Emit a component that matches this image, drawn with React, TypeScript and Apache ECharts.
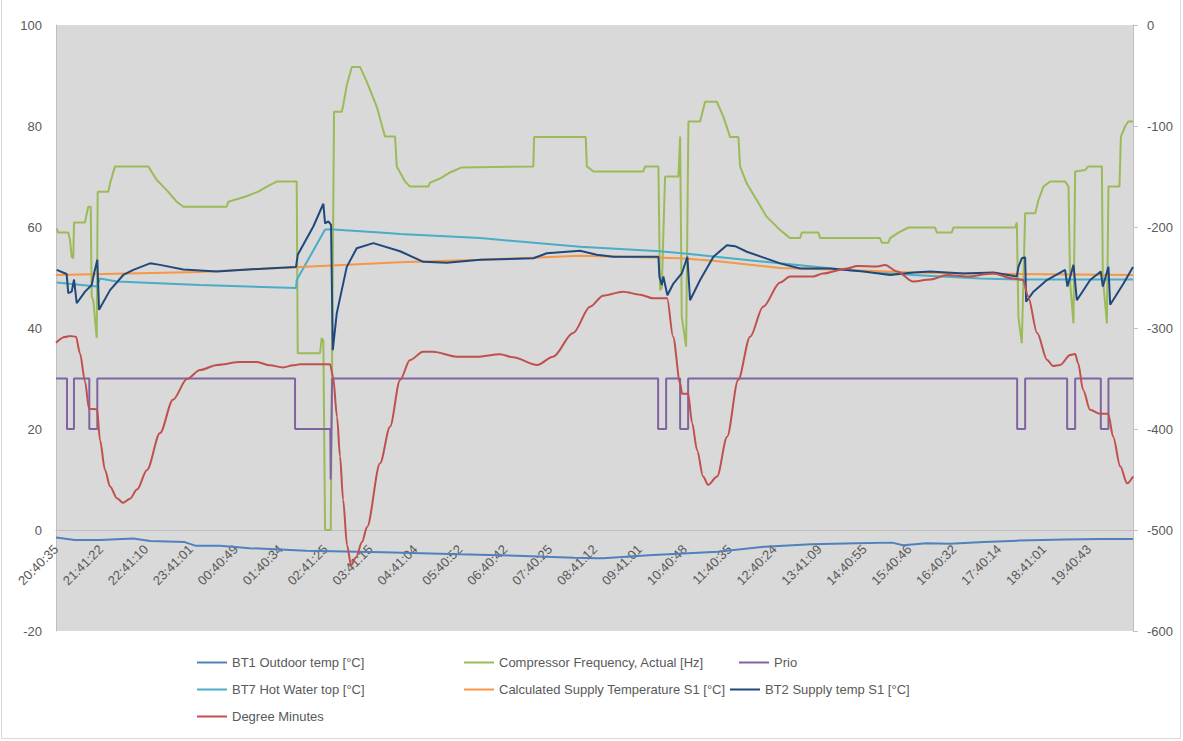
import React, { useEffect, useRef } from "react";
import * as echarts from "echarts";

// x values are minutes since 20:40:35 (one axis label every 60 minutes)
const timeLabels = [
  "20:40:35", "21:41:22", "22:41:10", "23:41:01", "00:40:49", "01:40:34",
  "02:41:25", "03:41:15", "04:41:04", "05:40:52", "06:40:42", "07:40:25",
  "08:41:12", "09:41:01", "10:40:48", "11:40:35", "12:40:24", "13:41:09",
  "14:40:55", "15:40:46", "16:40:32", "17:40:14", "18:41:01", "19:40:43",
];

const bt1Outdoor = [
  [0, -1.5], [25, -2.0], [59, -2.0], [103, -1.7], [126, -2.2], [172, -2.4], [186, -3.1],
  [219, -3.1], [259, -3.6], [334, -4.1], [437, -4.4], [539, -4.8], [616, -5.1], [692, -5.5],
  [723, -5.6], [731, -5.6], [792, -5.0], [884, -4.3], [947, -3.3], [1009, -2.8], [1070, -2.6],
  [1117, -2.5], [1132, -3.0], [1163, -2.6], [1194, -2.7], [1240, -2.4], [1286, -2.1],
  [1348, -1.9], [1395, -1.8], [1439, -1.8],
];

const compressorFreq = [
  [0.9, 59.7], [2.7, 58.9], [16.4, 58.9], [18.7, 57.4], [21, 54.1], [23.1, 53.8], [24.1, 60.9],
  [38.8, 60.9], [40.1, 62.0], [43.2, 64.0], [46.4, 64.0], [47.7, 46.2], [49.8, 45.5], [54.4, 38.0],
  [55.7, 67.0], [69.9, 67.0], [72.2, 68.6], [78.8, 72.0], [123.3, 72.0], [134.6, 69.3],
  [147.9, 67.3], [161.3, 65.0], [170.1, 64.0], [228.1, 64.0], [230.2, 65.0], [252.6, 66.0],
  [270.3, 67.0], [281.6, 68.0], [294.9, 69.0], [321.6, 69.0], [323, 35.0], [352.8, 35.0],
  [355, 38.0], [357.2, 37.5], [359.5, 0], [367.1, 0], [371.5, 82.8], [381.8, 82.8], [383.9, 84.2],
  [388.5, 88.1], [395.2, 91.7], [406.2, 91.7], [415.2, 88.8], [428.6, 83.8], [439.6, 77.9],
  [453, 77.9], [455.3, 72.0], [466.4, 69.0], [473, 68.0], [497.5, 68.0], [499.8, 68.8],
  [513.1, 69.6], [526.5, 70.8], [542.1, 71.8], [637.8, 72.0], [638.8, 77.8], [707.8, 77.8],
  [709.2, 72.0], [718, 71.0], [784.8, 71.0], [787.1, 72.0], [804.9, 72.0], [807.1, 47.5],
  [809.4, 48.0], [813.8, 70.0], [831.6, 70.0], [833.9, 77.9], [836.1, 42.2], [841.9, 36.3],
  [845, 80.9], [860.6, 80.9], [867.3, 84.8], [882.9, 84.8], [891.8, 81.8], [900.7, 77.8],
  [911.8, 77.8], [914, 72.0], [923, 68.6], [936.4, 65.3], [949.7, 62.0], [967.5, 59.4],
  [980.8, 57.8], [994.2, 57.8], [996.5, 58.9], [1018.7, 58.9], [1021, 57.8], [1101.1, 57.8],
  [1103.3, 56.9], [1112.1, 56.9], [1114.5, 57.8], [1125.6, 58.9], [1138.9, 59.9], [1174.6, 59.9],
  [1176.9, 58.9], [1196.9, 58.9], [1199.1, 59.9], [1281.5, 59.9], [1283.8, 60.9], [1285.9, 42.2],
  [1290.4, 37.0], [1294.9, 62.7], [1308.3, 62.7], [1312.6, 65.3], [1319.3, 68.0], [1328.3, 69.0],
  [1348.3, 69.0], [1352.8, 68.0], [1355.1, 48.8], [1359.5, 40.9], [1361.7, 71.0], [1375.1, 71.3],
  [1379.5, 72.0], [1397.4, 72.0], [1398.7, 50.0], [1404.1, 40.9], [1406.2, 68.0], [1420.9, 68.0],
  [1422.8, 77.9], [1428.6, 80.0], [1433, 80.9], [1439, 80.9],
];

const prio = [
  [0, 30], [14.7, 30], [14.7, 20], [24, 20], [24, 30], [44.5, 30], [44.5, 20], [55.2, 20],
  [55.2, 30], [319.4, 30], [319.4, 20], [366.5, 20], [367, 10], [369, 30], [804.5, 30],
  [804.5, 20], [815.2, 20], [815.2, 30], [833.9, 30], [833.9, 20], [844.6, 20], [844.6, 30],
  [1284.2, 30], [1284.2, 20], [1294.9, 20], [1294.9, 30], [1351, 30], [1351, 20], [1361.7, 20],
  [1361.7, 30], [1396, 30], [1396, 20], [1406.2, 20], [1406.2, 30], [1439, 30],
];

const bt7HotWater = [
  [0.9, 49.0], [54.4, 48.2], [58.8, 49.8], [81.1, 49.2], [192.4, 48.5], [320.7, 47.9],
  [321.6, 49.5], [359.5, 59.5], [370.2, 59.5], [433, 58.9], [459.7, 58.6], [566.6, 57.8],
  [700.2, 56.1], [807.1, 55.2], [843.2, 54.7], [967.5, 52.8], [1057, 51.5], [1145.2, 50.5],
  [1234.7, 49.8], [1288.2, 49.6], [1439, 49.6],
];

const calcSupply = [
  [0, 50.5], [192.4, 51.1], [326, 52.1], [459.7, 53.0], [566.6, 53.5], [700.2, 54.3],
  [833.9, 53.8], [878, 53.3], [967.5, 51.9], [1057, 51.5], [1145.2, 51.0], [1278.8, 50.7],
  [1439, 50.5],
];

const bt2Supply = [
  [0.9, 51.5], [14.2, 50.7], [16.4, 46.9], [21, 47.2], [24.1, 49.6], [27.7, 44.9], [38.8, 47.2],
  [47.7, 48.5], [50.8, 50.8], [55.2, 53.5], [57.5, 43.6], [72.2, 47.5], [89.9, 50.5],
  [103.3, 51.5], [125.6, 52.8], [139, 52.5], [170.1, 51.6], [214.7, 51.2], [281.6, 51.8],
  [320.7, 52.1], [323, 54.5], [343.8, 60.1], [357.2, 64.6], [359.5, 60.7], [363.9, 61.1],
  [367.5, 60.4], [369.8, 35.6], [375.1, 42.9], [388.5, 52.1], [401.8, 55.8], [424, 56.8],
  [459.7, 55.2], [490.8, 53.1], [522.1, 52.9], [566.6, 53.5], [637.8, 53.8], [655.7, 54.8],
  [700.2, 55.3], [722.5, 54.5], [744.7, 54.1], [804.9, 54.1], [806.2, 50.2], [809.4, 48.5],
  [811.5, 50.2], [816.9, 46.5], [824.9, 48.8], [836.1, 50.8], [843.6, 54.1], [847.2, 45.5],
  [860.6, 49.5], [878.4, 54.1], [896.3, 56.4], [907.4, 56.2], [923, 55.1], [967.5, 52.8],
  [994.2, 51.8], [1034.3, 51.8], [1078.8, 51.2], [1114.5, 50.5], [1145.6, 51.0], [1168, 51.2],
  [1212.4, 50.8], [1252.5, 51.0], [1283.8, 50.2], [1285.9, 52.1], [1290.4, 53.8], [1294.9, 54.0],
  [1296.2, 45.2], [1306, 47.2], [1323.9, 49.5], [1348.3, 51.5], [1351.4, 48.2], [1359.5, 52.5],
  [1364, 45.5], [1381.7, 49.5], [1396, 51.2], [1398.7, 48.2], [1406.2, 52.1], [1408.5, 44.6],
  [1426.3, 48.8], [1439, 52.1],
];

const degreeMinutes = [
  [0, -314.5], [12, -309], [18.7, -308], [26.7, -308.6], [32, -325], [38.8, -353], [44.1, -380],
  [54.8, -380.5], [58.8, -411], [65.5, -440.6], [72.2, -457], [81.5, -468.6], [89.5, -473],
  [98.9, -469], [108.2, -460], [121.6, -440.6], [139, -404], [156.3, -371], [175, -350.5],
  [192.4, -341.6], [215.1, -336.6], [245.9, -333.7], [268.6, -333.7], [286, -337], [303.3, -339],
  [316.7, -337], [326, -336], [366.1, -336], [370.2, -348], [375.5, -388], [379.5, -427],
  [383.6, -470], [388.9, -515], [394.2, -535], [400.9, -527], [408.9, -512], [415.6, -497],
  [433, -434], [446.3, -397.7], [459.7, -351.5], [473, -331.7], [490.4, -323.5], [503.8, -323.5],
  [535.9, -328.4], [562.6, -328.4], [593.3, -326], [610.7, -329], [642.8, -336.6], [664.1, -328.4],
  [690.9, -305], [713.6, -279], [731, -268], [757.7, -264], [780.4, -267], [797.8, -270.6],
  [816.5, -270.6], [824.5, -308.6], [833.9, -354.8], [836.5, -365], [844.6, -365], [849.9, -394],
  [856.6, -421], [864.6, -447], [871.3, -455.4], [883.3, -447], [896.7, -407.6], [911.4, -351.5],
  [927.4, -308.6], [944.8, -279], [967.5, -255], [980.8, -249], [1011.6, -249], [1024.9, -246],
  [1057, -241], [1070.4, -238.6], [1097.1, -239], [1107.8, -237.6], [1123.8, -244], [1145.2, -254],
  [1168, -252], [1190.6, -247.5], [1217.4, -249], [1252.1, -246], [1278.8, -251], [1292.2, -252.5],
  [1298.9, -269], [1310.9, -305], [1324.3, -331.7], [1332.3, -337.6], [1341.6, -336.6],
  [1355, -326.7], [1361.7, -325.7], [1365.7, -335], [1372.4, -361.4], [1381.7, -381],
  [1395.1, -385], [1405.8, -385], [1412.5, -407.6], [1421.9, -437], [1431.2, -453.8], [1439, -447],
];

const seriesNames = [
  "BT1 Outdoor temp [°C]",
  "Compressor Frequency, Actual [Hz]",
  "Prio",
  "BT7 Hot Water top [°C]",
  "Calculated Supply Temperature S1 [°C]",
  "BT2 Supply temp S1 [°C]",
  "Degree Minutes",
];
const seriesColors = ["#4F81BD", "#9BBB59", "#8064A2", "#4BACC6", "#F79646", "#1F497D", "#C0504D"];
const seriesData = [bt1Outdoor, compressorFreq, prio, bt7HotWater, calcSupply, bt2Supply, degreeMinutes];
const seriesAxis = [0, 0, 0, 0, 0, 0, 1];

const FONT = "Liberation Sans";
const TXT = "#595959";

// legend placement (left, top) per series
const legendPos = [
  [197, 656], [464, 656], [739, 656],
  [197, 683], [464, 683], [730, 683],
  [197, 710],
];

export default function App() {
  const ref = useRef<HTMLDivElement>(null);
  useEffect(() => {
    if (!ref.current) return;
    const chart = echarts.init(ref.current, undefined, { renderer: "svg" });
    chart.setOption({
      animation: false,
      backgroundColor: "#ffffff",
      textStyle: { fontFamily: FONT },
      grid: {
        left: 56, right: 50, top: 25, bottom: 110,
        show: true, backgroundColor: "#d9d9d9", borderWidth: 0,
      },
      xAxis: {
        type: "value",
        position: "bottom",
        offset: -101,
        min: 0, max: 1439, interval: 60,
        axisLine: { show: true, onZero: false, lineStyle: { color: "#bfbfbf", width: 1 } },
        axisTick: { show: false },
        splitLine: { show: false },
        axisLabel: {
          rotate: 45, margin: 17, fontSize: 13, color: TXT, fontFamily: FONT,
          showMinLabel: true, showMaxLabel: false,
          formatter: (v: number) => {
            const i = Math.round(v / 60);
            return Math.abs(v - i * 60) < 1e-6 && timeLabels[i] ? timeLabels[i] : "";
          },
        },
      },
      yAxis: [
        {
          type: "value", min: -20, max: 100, interval: 20, position: "left",
          axisLine: { show: true, onZero: false, lineStyle: { color: "#bfbfbf" } },
          axisTick: { show: false },
          splitLine: { show: false },
          axisLabel: { fontSize: 13, color: TXT, margin: 14, fontFamily: FONT },
        },
        {
          type: "value", min: -600, max: 0, interval: 100, position: "right",
          axisLine: { show: true, onZero: false, lineStyle: { color: "#bfbfbf" } },
          axisTick: { show: true, length: 5, lineStyle: { color: "#bfbfbf" } },
          splitLine: { show: false },
          axisLabel: { fontSize: 13, color: TXT, margin: 14, fontFamily: FONT },
        },
      ],
      legend: seriesNames.map((n, i) => ({
        data: [n],
        left: legendPos[i][0], top: legendPos[i][1],
        padding: 0, icon: "rect", itemWidth: 30, itemHeight: 2,
        selectedMode: false,
        textStyle: { fontSize: 13, color: TXT, fontFamily: FONT },
      })),
      graphic: [
        {
          type: "rect", silent: true, z: -1,
          shape: { x: 1.5, y: -10, width: 1179, height: 748.5 },
          style: { fill: "none", stroke: "#d9d9d9", lineWidth: 1 },
        },
      ],
      series: seriesNames.map((n, i) => ({
        name: n,
        type: "line",
        data: seriesData[i],
        yAxisIndex: seriesAxis[i],
        symbol: "none",
        showSymbol: false,
        smooth: i === 6 ? 0.3 : false,
        smoothMonotone: i === 6 ? "x" : undefined,
        lineStyle: { color: seriesColors[i], width: 2 },
        itemStyle: { color: seriesColors[i] },
        z: 2 + i,
      })),
    });
    return () => chart.dispose();
  }, []);
  return (
    <div
      ref={ref}
      style={{ position: "absolute", left: 0, top: 0, width: 1183, height: 741 }}
    />
  );
}
